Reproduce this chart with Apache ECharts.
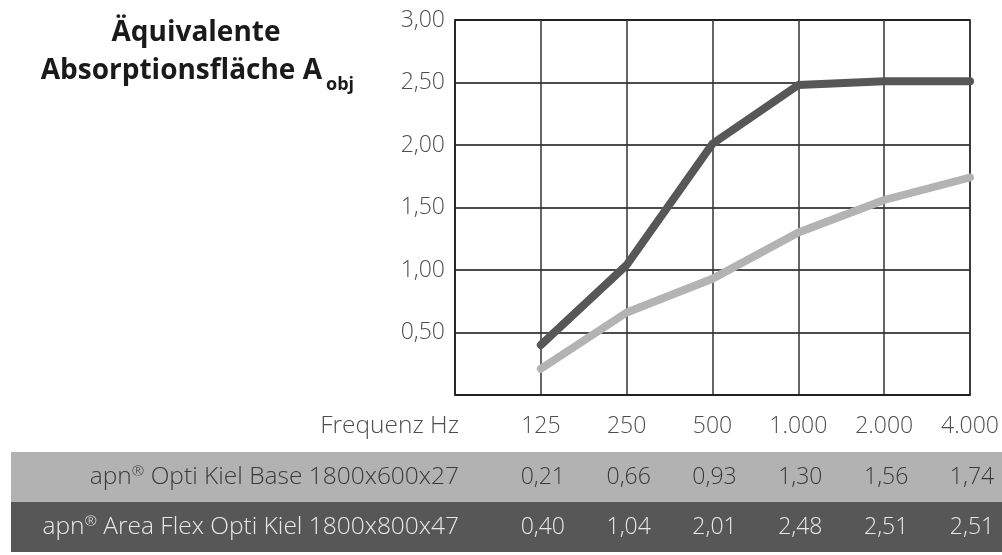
<!DOCTYPE html>
<html>
<head>
<meta charset="utf-8">
<script src="https://cdn.jsdelivr.net/npm/echarts@6/dist/echarts.min.js"></script>
<style>
html,body{margin:0;padding:0;background:#fff;}
#c{width:1002px;height:555px;}
</style>
</head>
<body>
<div id="c"></div>
<script>
var frequencies = ['', '125', '250', '500', '1.000', '2.000', '4.000'];
var seriesNames = ['apn® Opti Kiel Base 1800x600x27', 'apn® Area Flex Opti Kiel 1800x800x47'];
var baseValues = [null, 0.21, 0.66, 0.93, 1.30, 1.56, 1.74];
var flexValues = [null, 0.40, 1.04, 2.01, 2.48, 2.51, 2.51];
var yTicks = [0, 0.5, 1, 1.5, 2, 2.5, 3];
var rowLabel = 'Frequenz Hz';
var titleLine1 = 'Äquivalente';
var titleLine2 = 'Absorptionsfläche A';
var titleSub = 'obj';

function fmt(v){ return v.toFixed(2).replace('.', ','); }
// render "®" as a small raised token via rich text
function richName(s){ return s.replace('®', '{r|®}'); }

var FONT = 'Open Sans';
var chart = echarts.init(document.getElementById('c'), null, {renderer: 'canvas'});
chart.setOption({
  animation: false,
  grid: {left: 455, right: 32, top: 20, bottom: 160, show: true, borderColor: '#222', borderWidth: 1.5},
  xAxis: {
    type: 'category', data: frequencies, boundaryGap: false,
    axisLine: {show: true, lineStyle: {color: '#222', width: 1.5}},
    axisTick: {show: false}, axisLabel: {show: false},
    splitLine: {show: true, lineStyle: {color: '#333', width: 1.5}}
  },
  yAxis: {
    type: 'value', min: yTicks[0], max: yTicks[yTicks.length - 1], interval: 0.5,
    axisLine: {show: true, lineStyle: {color: '#222', width: 1.5}},
    axisTick: {show: false},
    axisLabel: {show: true, margin: 10, color: '#4d4d4d', fontFamily: FONT, fontWeight: 300, fontSize: 23,
      formatter: function(v){ return v === 0 ? '' : fmt(v); }},
    splitLine: {show: true, lineStyle: {color: '#111', width: 1.5}}
  },
  series: [
    {name: seriesNames[0], type: 'line', data: baseValues, symbol: 'none', z: 3,
      lineStyle: {color: '#b3b3b3', width: 8, cap: 'round', join: 'round'}},
    {name: seriesNames[1], type: 'line', data: flexValues, symbol: 'none', z: 4,
      lineStyle: {color: '#575757', width: 8, cap: 'round', join: 'round'}}
  ]
});

var elements = [];
var W = 1002;
elements.push({type: 'rect', shape: {x: 11, y: 452, width: W - 11, height: 50}, style: {fill: '#b2b2b2'}, z: 1});
elements.push({type: 'rect', shape: {x: 11, y: 502, width: W - 11, height: 50}, style: {fill: '#575757'}, z: 1});

function txt(x, y, t, align, color, size){
  return {type: 'text', x: x, y: y, z: 10, style: {text: t, fill: color, fontFamily: FONT, fontWeight: 300, fontSize: size || 23, align: align, verticalAlign: 'middle'}};
}
function labelTxt(x, y, t, color){
  return {type: 'text', x: x, y: y, z: 10, style: {
    text: richName(t), fill: color, fontFamily: FONT, fontWeight: 300, fontSize: 24.5,
    align: 'right', verticalAlign: 'middle',
    rich: {r: {fontFamily: FONT, fontWeight: 300, fontSize: 15, fill: color, verticalAlign: 'top', padding: [0, 0, 0, 0]}}
  }};
}
var labelX = 459;
elements.push(txt(labelX, 426, rowLabel, 'right', '#4d4d4d', 24.5));
elements.push(labelTxt(labelX, 477, seriesNames[0], '#3a3a3a'));
elements.push(labelTxt(labelX, 527, seriesNames[1], '#e8e8e8'));
for (var i = 1; i < frequencies.length; i++) {
  var px = chart.convertToPixel({xAxisIndex: 0}, i);
  elements.push(txt(px, 426, frequencies[i], 'center', '#4d4d4d'));
  elements.push(txt(px + 2, 477, fmt(baseValues[i]), 'center', '#3a3a3a'));
  elements.push(txt(px + 2, 527, fmt(flexValues[i]), 'center', '#e8e8e8'));
}
elements.push({type: 'text', x: 196, y: 33, z: 10, style: {text: titleLine1, fill: '#1a1a1a', fontFamily: FONT, fontWeight: 700, fontSize: 28, align: 'center', verticalAlign: 'middle'}});
elements.push({type: 'text', x: 322, y: 71, z: 10, style: {text: titleLine2, fill: '#1a1a1a', fontFamily: FONT, fontWeight: 700, fontSize: 28, align: 'right', verticalAlign: 'middle'}});
elements.push({type: 'text', x: 326, y: 85, z: 10, style: {text: titleSub, fill: '#1a1a1a', fontFamily: FONT, fontWeight: 700, fontSize: 18, align: 'left', verticalAlign: 'middle'}});
chart.setOption({graphic: {elements: elements}});
</script>
</body>
</html>
